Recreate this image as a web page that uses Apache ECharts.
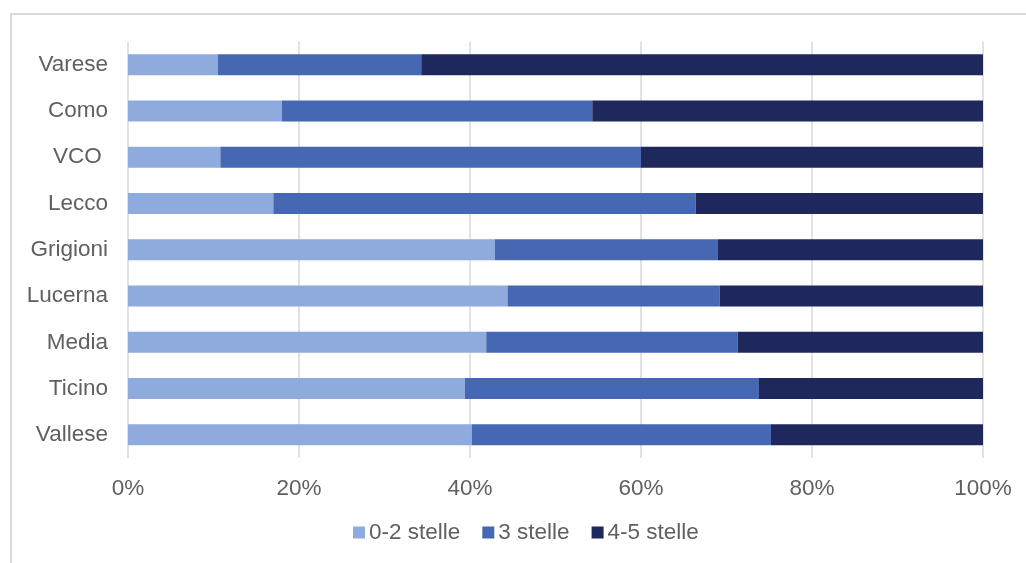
<!DOCTYPE html>
<html>
<head>
<meta charset="utf-8">
<script src="https://cdn.jsdelivr.net/npm/echarts@6/dist/echarts.min.js"></script>
<style>
  html, body { margin: 0; padding: 0; background: #ffffff; }
  #chart { width: 1026px; height: 563px; }
</style>
</head>
<body>
<div id="chart"></div>
<script>
// Regions, listed bottom-to-top as the category axis draws them
const regions = ['Vallese', 'Ticino', 'Media', 'Lucerna', 'Grigioni', 'Lecco', 'VCO ', 'Como', 'Varese'];

// Share of hotels by star rating (%)
const stars02 = [40.2, 39.4, 41.9, 44.4, 42.9, 17.0, 10.8, 18.0, 10.5];
const stars3  = [35.0, 34.4, 29.4, 24.8, 26.1, 49.4, 49.2, 36.3, 23.8];
const stars45 = [24.8, 26.2, 28.7, 30.8, 31.0, 33.6, 40.0, 45.7, 65.7];

const seriesNames = ['0-2 stelle', '3 stelle', '4-5 stelle'];
const seriesColors = ['#8FAADC', '#4668B2', '#1F285C'];

const textColor = '#606060';
const fontFamily = '"Liberation Sans", Arial, sans-serif';
const fontSize = 22.5;

const chart = echarts.init(document.getElementById('chart'), null, { renderer: 'canvas' });

const makeSeries = (name, data, color) => ({
  name: name,
  type: 'bar',
  stack: 'total',
  barWidth: 21,
  data: data,
  itemStyle: { color: color },
  emphasis: { disabled: true }
});

chart.setOption({
  animation: false,
  backgroundColor: '#ffffff',
  graphic: [{
    type: 'rect',
    shape: { x: 11, y: 14, width: 1030, height: 570 },
    style: { fill: 'none', stroke: '#D9D9D9', lineWidth: 2 },
    silent: true
  }],
  grid: { left: 128, right: 43, top: 41.5, height: 416.5, containLabel: false },
  legend: {
    data: seriesNames,
    left: 353,
    top: 521,
    padding: 0,
    icon: 'rect',
    itemWidth: 12,
    itemHeight: 12,
    itemGap: 22,
    textStyle: { color: textColor, fontSize: fontSize, fontFamily: fontFamily, padding: [2, 0, 0, -1] }
  },
  xAxis: {
    type: 'value',
    min: 0,
    max: 100,
    interval: 20,
    axisLine: { show: false },
    axisTick: { show: false },
    axisLabel: {
      formatter: '{value}%',
      color: textColor,
      fontSize: fontSize,
      fontFamily: fontFamily,
      margin: 19
    },
    splitLine: { show: true, lineStyle: { color: '#D9D9D9', width: 1.5 } }
  },
  yAxis: {
    type: 'category',
    data: regions,
    axisLine: { show: false },
    axisTick: { show: false },
    axisLabel: {
      color: textColor,
      fontSize: fontSize,
      fontFamily: fontFamily,
      margin: 20,
      padding: [4, 0, 0, 0]
    }
  },
  series: [
    makeSeries(seriesNames[0], stars02, seriesColors[0]),
    makeSeries(seriesNames[1], stars3, seriesColors[1]),
    makeSeries(seriesNames[2], stars45, seriesColors[2])
  ]
});
</script>
</body>
</html>
